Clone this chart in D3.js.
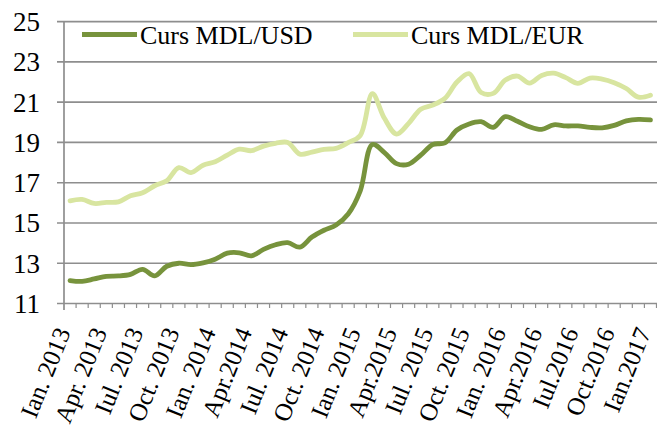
<!DOCTYPE html>
<html><head><meta charset="utf-8">
<script src="https://cdn.jsdelivr.net/npm/d3@7"></script>
<style>
body{margin:0;background:#fff}
svg{display:block}
text{font-family:"Liberation Serif","DejaVu Serif",serif;fill:#000}
</style>
</head><body>
<script>
// ---- data ----
const months = [
 "2013-01","2013-02","2013-03","2013-04","2013-05","2013-06","2013-07","2013-08","2013-09","2013-10","2013-11","2013-12",
 "2014-01","2014-02","2014-03","2014-04","2014-05","2014-06","2014-07","2014-08","2014-09","2014-10","2014-11","2014-12",
 "2015-01","2015-02","2015-03","2015-04","2015-05","2015-06","2015-07","2015-08","2015-09","2015-10","2015-11","2015-12",
 "2016-01","2016-02","2016-03","2016-04","2016-05","2016-06","2016-07","2016-08","2016-09","2016-10","2016-11","2016-12",
 "2017-01"
];
const tickLabels = ["Ian. 2013","Apr. 2013","Iul. 2013","Oct. 2013","Ian. 2014","Apr.2014","Iul. 2014","Oct. 2014",
 "Ian. 2015","Apr.2015","Iul. 2015","Oct. 2015","Ian. 2016","Apr.2016","Iul.2016","Oct.2016","Ian.2017"];
const labelMonths = ["2013-01","2013-04","2013-07","2013-10","2014-01","2014-04","2014-07","2014-10",
 "2015-01","2015-04","2015-07","2015-10","2016-01","2016-04","2016-07","2016-10","2017-01"];
const usd = [12.14,12.10,12.22,12.35,12.37,12.45,12.70,12.37,12.85,13.00,12.93,13.02,
 13.20,13.50,13.52,13.37,13.69,13.92,14.02,13.80,14.30,14.64,14.90,15.45,
 16.60,18.90,18.50,17.95,17.92,18.37,18.90,18.98,19.62,19.92,20.03,19.75,
 20.28,20.05,19.78,19.65,19.88,19.82,19.82,19.75,19.73,19.85,20.07,20.15,20.12];
const eur = [16.10,16.17,15.97,16.02,16.05,16.35,16.50,16.85,17.10,17.75,17.50,17.87,
 18.04,18.37,18.67,18.59,18.82,18.96,19.00,18.42,18.52,18.66,18.71,18.99,
 19.35,21.42,20.20,19.42,19.95,20.65,20.86,21.19,22.00,22.42,21.48,21.44,
 22.10,22.30,21.95,22.33,22.44,22.22,21.94,22.20,22.15,21.97,21.68,21.25,21.35];
const seriesNames = ["Curs MDL/USD","Curs MDL/EUR"];
const seriesColors = ["#77933c","#d8e5a0"];
const yTicks = [11,13,15,17,19,21,23,25];

// ---- chart ----
const W = 657, H = 432;
const svg = d3.select("body").append("svg").attr("width", W).attr("height", H);
const x = d3.scaleBand().domain(months).range([64, 656.5]).padding(0);
const y = d3.scaleLinear().domain([11, 25]).range([303.5, 21.7]);
const grid = "#8e8e8e";

// gridlines + y labels
svg.append("g").selectAll("line").data(yTicks).join("line")
  .attr("x1", 57).attr("x2", W).attr("y1", d => y(d)).attr("y2", d => y(d))
  .attr("stroke", grid).attr("stroke-width", 1.7);
svg.append("g").selectAll("text").data(yTicks).join("text")
  .attr("x", 40).attr("y", d => y(d)).attr("dy", "0.35em")
  .attr("text-anchor", "end").attr("font-size", 27).text(d => d);

// y axis line
svg.append("line").attr("x1", 64).attr("x2", 64).attr("y1", y(25)).attr("y2", 310)
  .attr("stroke", grid).attr("stroke-width", 1.7);

// x ticks at category boundaries
const bounds = months.map(m => x(m)).concat([x(months[months.length-1]) + x.bandwidth()]);
svg.append("g").selectAll("line").data(bounds.slice(1)).join("line")
  .attr("x1", d => d).attr("x2", d => d).attr("y1", y(11)).attr("y2", 308)
  .attr("stroke", grid).attr("stroke-width", 1.2);

// x labels
svg.append("g").selectAll("text").data(labelMonths).join("text")
  .attr("transform", d => `translate(${x(d) + x.bandwidth()/2 + 1},332) rotate(-68)`)
  .attr("text-anchor", "end").attr("font-size", 25)
  .text((d, i) => tickLabels[i]);

// lines
const line = d3.line()
  .x((d, i) => x(months[i]) + x.bandwidth()/2)
  .y(d => y(d))
  .curve(d3.curveCatmullRom.alpha(0.5));
[eur, usd].forEach((s, k) => {
  svg.append("path").attr("d", line(s)).attr("fill", "none")
    .attr("stroke", k === 0 ? seriesColors[1] : seriesColors[0])
    .attr("stroke-width", 4.8).attr("stroke-linejoin", "round").attr("stroke-linecap", "round");
});

// legend
const legend = [{x1: 82, x2: 137, tx: 140}, {x1: 353, x2: 408, tx: 411}];
legend.forEach((l, k) => {
  svg.append("line").attr("x1", l.x1).attr("x2", l.x2).attr("y1", 34.5).attr("y2", 34.5)
    .attr("stroke", seriesColors[k]).attr("stroke-width", 4.8);
  svg.append("text").attr("x", l.tx).attr("y", 44).attr("font-size", 26).text(seriesNames[k]);
});
</script>
</body></html>
